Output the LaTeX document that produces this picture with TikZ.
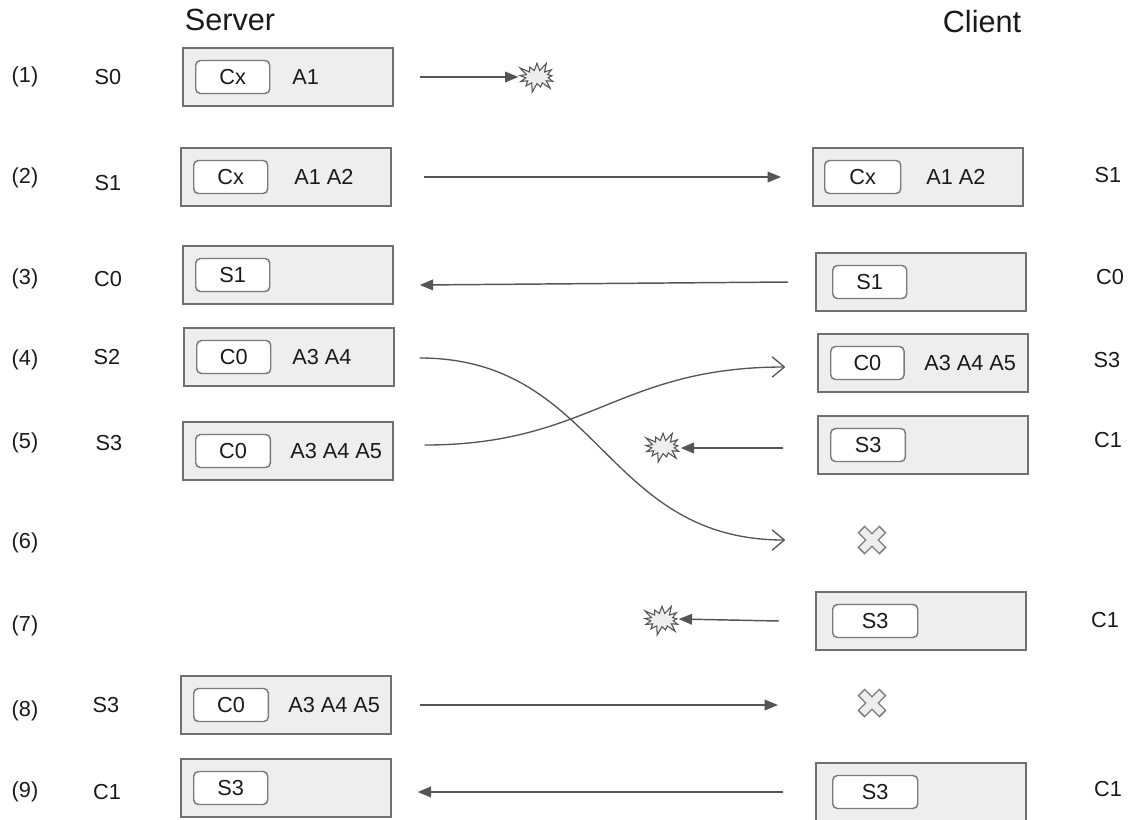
\documentclass[tikz,border=0pt]{standalone}
\usepackage{fontspec}
\setmainfont{Liberation Sans}
\usetikzlibrary{arrows.meta,calc,shapes.symbols}

\definecolor{boxfill}{HTML}{EEEEEE}
\definecolor{boxline}{HTML}{707070}
\definecolor{tagline}{HTML}{7A7A7A}
\definecolor{wire}{HTML}{555555}
\definecolor{ink}{HTML}{1A1A1A}

% state box: name, left x, centre y, tag offset, tag width, tag text, payload offset, payload
\newcommand\stbox[8]{%
  \node[outerbox, anchor=west] (#1) at (#2,#3) {};
  \node[tagbox, minimum width=#5, anchor=west] (#1-tag) at ($(#1.west)+(#4,0)$) {#6};
  \if\relax\detokenize{#8}\relax\else
    \node[txt, anchor=west] (#1-load) at ($(#1.west)+(#7,0)$) {#8};
  \fi
}

% lost-packet cross drawn round a named coordinate
\newcommand\lostcross[1]{%
  \draw[draw=boxline!90, line width=7.5pt]
    ($(#1)+(-11,-11)$) -- ($(#1)+(11,11)$)
    ($(#1)+(-11,11)$) -- ($(#1)+(11,-11)$);
  \draw[draw=boxfill, line width=5.4pt]
    ($(#1)+(-9.8,-9.8)$) -- ($(#1)+(9.8,9.8)$)
    ($(#1)+(-9.8,9.8)$) -- ($(#1)+(9.8,-9.8)$);
}

\begin{document}
\begin{tikzpicture}[x=0.75pt,y=-0.75pt,
  txt/.style={font=\fontsize{16.3pt}{19pt}\selectfont, text=ink, inner sep=0pt},
  head/.style={font=\fontsize{23pt}{27pt}\selectfont, text=ink, inner sep=0pt},
  outerbox/.style={draw=boxline, fill=boxfill, line width=1.3pt,
    minimum width=157.5pt, minimum height=43.5pt, inner sep=0pt},
  tagbox/.style={txt, draw=tagline, fill=white, line width=1.1pt,
    rounded corners=3.5pt, minimum height=24.75pt},
  msg/.style={draw=wire, line width=1.1pt, -{Triangle[length=10pt,width=8pt]}},
  swapped/.style={draw=wire, line width=1pt,
    -{Straight Barb[length=9pt,width=15pt,round]}},
  burst/.style={starburst, starburst points=13, starburst point height=7.5pt,
    fill=boxfill, draw=wire, line width=0.8pt,
    minimum width=32pt, minimum height=25pt, inner sep=0pt},
]
\useasboundingbox (0,0) rectangle (1133,819);

% column headings
\node[head] (hserver) at (230,20) {Server};
\node[head] (hclient) at (982,22) {Client};

% step numbers
\foreach \n/\yy in {1/77,2/178,3/279,4/360,5/443,6/543,7/626,8/711,9/792}
  \node[txt] (step\n) at (25,\yy) {(\n)};

% server-side state labels
\node[txt] (ls1) at (108,77)  {S0};
\node[txt] (ls2) at (108,183) {S1};
\node[txt] (ls3) at (108,279) {C0};
\node[txt] (ls4) at (107,357) {S2};
\node[txt] (ls5) at (109,443) {S3};
\node[txt] (ls8) at (106,705) {S3};
\node[txt] (ls9) at (107,792) {C1};

% client-side state labels
\node[txt] (rs2) at (1108,175) {S1};
\node[txt] (rs3) at (1110,277) {C0};
\node[txt] (rs4) at (1107,360) {S3};
\node[txt] (rs5) at (1108,440) {C1};
\node[txt] (rs7) at (1105,620) {C1};
\node[txt] (rs9) at (1108,789) {C1};

% server packets
\stbox{srv1}{182}{77}{13}{55.5pt}{Cx}{110}{A1}
\stbox{srv2}{180}{177}{13}{55.5pt}{Cx}{114}{A1 A2}
\stbox{srv3}{182}{275}{13}{55.5pt}{S1}{110}{}
\stbox{srv4}{183}{357}{13}{55.5pt}{C0}{109}{A3 A4}
\stbox{srv5}{182}{451}{13}{56pt}{C0}{108}{A3 A4 A5}
\stbox{srv8}{180}{705}{13}{56pt}{C0}{108}{A3 A4 A5}
\stbox{srv9}{180}{788}{13}{55.5pt}{S3}{110}{}

% client packets
\stbox{cli2}{812}{177}{12}{57pt}{Cx}{114}{A1 A2}
\stbox{cli3}{815}{282}{17}{55.5pt}{S1}{110}{}
\stbox{cli4}{817}{363}{13}{55pt}{C0}{107}{A3 A4 A5}
\stbox{cli5}{817}{445}{13}{56pt}{S3}{110}{}
\stbox{cli7}{815}{621}{17}{63.75pt}{S3}{110}{}
\stbox{cli9}{815}{792}{17}{63.75pt}{S3}{110}{}

% dropped packets
\node[burst] (b1) at (537,77) {};
\node[burst] (b5) at (663,447) {};
\node[burst] (b7) at (662,620) {};

% lost packets
\coordinate (x6) at (872,540);
\coordinate (x8) at (872,703);
\lostcross{x6}
\lostcross{x8}

% messages
\draw[msg] ($(srv1.east)+(26,0)$) -- ($(b1.west)+(-4,0)$);
\draw[msg] ($(srv2.east)+(32,0)$) -- ($(cli2.west)+(-31,0)$);
\draw[msg] ($(cli3.west)+(-27,0)$) -- ($(srv3.east)+(26,10)$);
\draw[msg] ($(cli5.west)+(-34,3)$) -- ($(b5.east)+(4,1)$);
\draw[msg] ($(cli7.west)+(-36,0)$) -- ($(b7.east)+(3,-1)$);
\draw[msg] ($(srv8.east)+(28,0)$) -- ($(x8)+(-94,2)$);
\draw[msg] ($(cli9.west)+(-32,0)$) -- ($(srv9.east)+(26,4)$);

% reordered packets
\draw[swapped] ($(srv4.east)+(25,1)$) .. controls (600,358) and (603,540) .. ($(x6)+(-87,0)$);
\draw[swapped] ($(srv5.east)+(31,-6)$) .. controls (590,445) and (618,367) .. ($(cli4.west)+(-32,4)$);
\end{tikzpicture}
\end{document}
